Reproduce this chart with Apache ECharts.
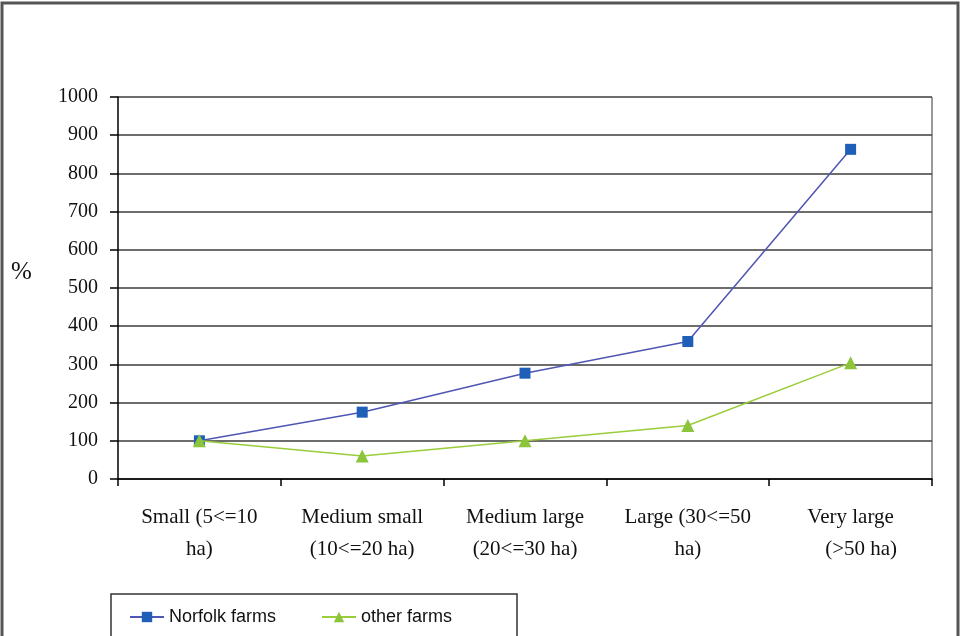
<!DOCTYPE html>
<html>
<head>
<meta charset="utf-8">
<script src="https://cdn.jsdelivr.net/npm/echarts@6/dist/echarts.min.js"></script>
<style>
  html, body { margin: 0; padding: 0; background: #fff; }
  #chart { width: 962px; height: 636px; }
</style>
</head>
<body>
<div id="chart"></div>
<script>
// farm size classes
var categories = [
  'Small (5<=10\nha)',
  'Medium small\n(10<=20 ha)',
  'Medium large\n(20<=30 ha)',
  'Large (30<=50\nha)',
  'Very large\n    (>50 ha)'
]
var norfolkFarms = [100, 175, 277, 360, 863]
var otherFarms = [100, 60, 100, 140, 304]
var yTicks = { min: 0, max: 1000, step: 100 }
var yTitle = '%'

var chart = echarts.init(document.getElementById('chart'))

var option = {
  animation: false,
  grid: {
    left: 118,
    right: 30,
    top: 97,
    bottom: 157
  },
  graphic: [
    {
      // outer frame
      type: 'rect',
      shape: { x: 2, y: 3, width: 956, height: 640 },
      style: { fill: null, stroke: '#555', lineWidth: 3 }
    },
    {
      // legend box (cut off at bottom)
      type: 'rect',
      shape: { x: 111, y: 594, width: 406, height: 60 },
      style: { fill: null, stroke: '#333', lineWidth: 1.5 }
    },
    {
      // right edge of plot
      type: 'line',
      shape: { x1: 932, y1: 97, x2: 932, y2: 479 },
      style: { stroke: '#999', lineWidth: 2 }
    },
    {
      // y axis title
      type: 'text',
      left: 11,
      top: 260,
      style: { text: yTitle, font: '25px "Liberation Serif"', fill: '#111' }
    }
  ],
  legend: [
    {
      left: 124,
      top: 603,
      itemWidth: 34,
      itemHeight: 13,
      textStyle: { fontFamily: 'Liberation Sans', fontSize: 18, color: '#111' },
      data: ['Norfolk farms']
    },
    {
      left: 316,
      top: 603,
      itemWidth: 34,
      itemHeight: 13,
      textStyle: { fontFamily: 'Liberation Sans', fontSize: 18, color: '#111' },
      data: ['other farms']
    }
  ],
  xAxis: {
    type: 'category',
    data: categories,
    boundaryGap: true,
    axisLine: { lineStyle: { color: '#000', width: 1.5 } },
    axisTick: { show: true, length: 7, lineStyle: { color: '#000', width: 1.5 } },
    axisLabel: {
      interval: 0,
      margin: 22,
      fontFamily: 'Liberation Serif',
      fontSize: 21,
      lineHeight: 32,
      color: '#111'
    }
  },
  yAxis: {
    type: 'value',
    min: yTicks.min,
    max: yTicks.max,
    interval: yTicks.step,
    axisLine: { show: true, lineStyle: { color: '#000', width: 1.5 } },
    axisTick: { show: true, length: 8, lineStyle: { color: '#000', width: 1.5 } },
    axisLabel: {
      margin: 20,
      fontFamily: 'Liberation Serif',
      fontSize: 20,
      color: '#111',
      formatter: function (v) { return String(v) }
    },
    splitLine: { show: true, lineStyle: { color: '#3c3c3c', width: 1.5 } }
  },
  series: [
    {
      name: 'Norfolk farms',
      type: 'line',
      data: norfolkFarms,
      symbol: 'rect',
      symbolSize: 11,
      lineStyle: { color: '#5056b4', width: 1.5 },
      itemStyle: { color: '#1f5fb8' },
      z: 3
    },
    {
      name: 'other farms',
      type: 'line',
      data: otherFarms,
      symbol: 'triangle',
      symbolSize: 13,
      lineStyle: { color: '#9acd3a', width: 1.5 },
      itemStyle: { color: '#8cc43c' },
      z: 4
    }
  ]
}

chart.setOption(option)
</script>
</body>
</html>
